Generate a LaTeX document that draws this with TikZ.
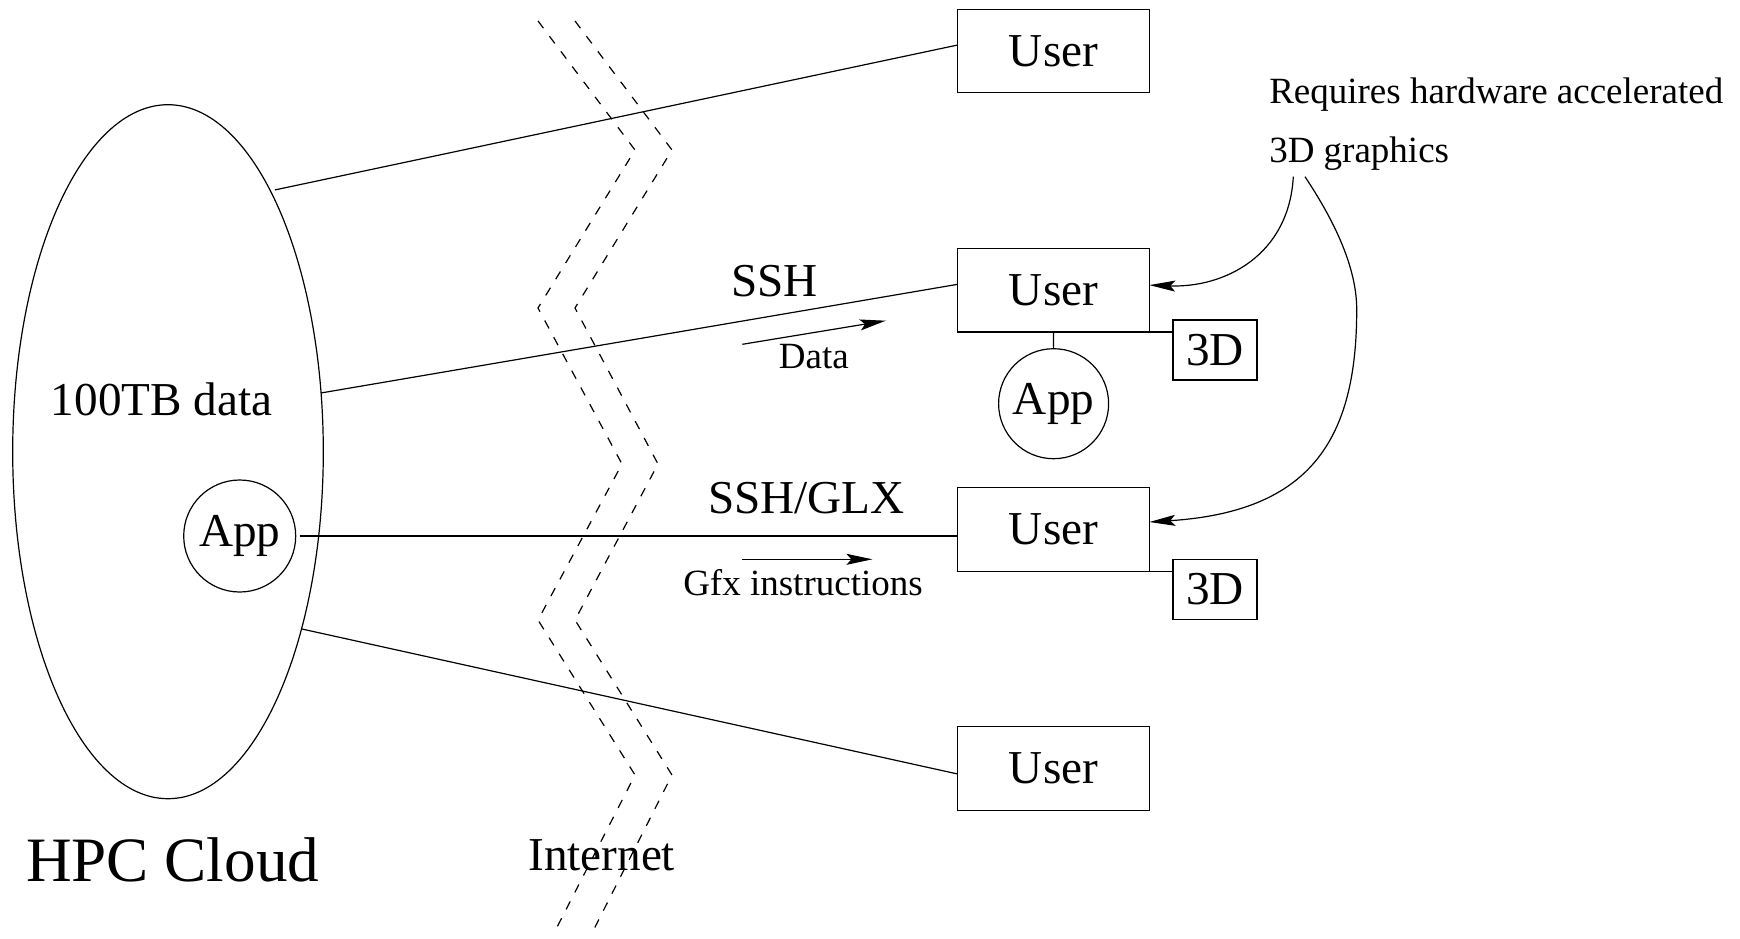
\documentclass[tikz,border=0pt]{standalone}
\usepackage{fontspec}
\setmainfont{Liberation Serif}
\usetikzlibrary{arrows.meta,shapes.geometric}

\begin{document}
\begin{tikzpicture}[x=0.5pt,y=-0.5pt,
  line width=0.6pt,
  big/.style={font=\fontsize{23.6}{28}\selectfont},
  small/.style={font=\fontsize{18.5}{22}\selectfont},
  userbox/.style={draw, rectangle, minimum width=95.8pt, minimum height=41.7pt,
    inner sep=0pt, outer sep=0pt, big},
  tdbox/.style={draw, rectangle, minimum width=42pt, minimum height=30pt,
    inner sep=0pt, outer sep=0pt, big},
  appcirc/.style={draw, circle, inner sep=0pt, outer sep=0pt, big},
  tip/.style={-{Stealth[length=13pt,width=5.5pt,inset=2.5pt]}},
  net/.style={dash pattern=on 4.5pt off 5pt},
]
\useasboundingbox (0,0) rectangle (1740,938);

% the cloud side
\node[draw, ellipse, minimum width=155.3pt, minimum height=347pt,
      inner sep=0pt, outer sep=0pt] (cloud) at (168,451.7) {};
\node[big, anchor=base] (data) at (161.7,415) {100TB data};
\node[appcirc, minimum size=56pt] (app) at (239.7,536) {App};
\node[font=\fontsize{31.6}{36}\selectfont, anchor=base] (hpc) at (172.7,881.7) {HPC Cloud};

% the internet boundary
\draw[net] (538,21) -- (635,150) -- (538,308) -- (622,464) -- (538,620) -- (635,775) -- (553,935);
\draw[net] (575,21) -- (672,150) -- (575,308) -- (658,464) -- (575,620) -- (672,775) -- (591,935);
\node[big, anchor=base] (inet) at (601.7,870) {Internet};

% users
\node[userbox] (u1) at (1053.5,51) {User};
\node[userbox] (u2) at (1053.5,290.3) {User};
\node[userbox] (u3) at (1053.5,529.4) {User};
\node[userbox] (u4) at (1053.5,768.4) {User};

\node[tdbox] (d1) at (1215,350) {3D};
\node[tdbox] (d2) at (1215,589.3) {3D};
\node[appcirc, minimum size=55pt] (app2) at (1053.6,403.7) {App};

\draw (u2.south east) -- (u2.south east -| d1.west);
\draw (u3.south east) -- (u3.south east -| d2.west);
\draw (u2.south) -- (app2.north);

% connections
\draw ([yshift=5pt]cloud.67.65) -- ([yshift=3pt]u1.west);
\draw (cloud.21.3) -- ([yshift=3pt]u2.west);
\draw ([xshift=2pt]app.east) -- (app.east -| u3.west);
\draw (cloud.-53.4) -- ([yshift=-2.8pt]u4.west);

% protocol labels
\node[big, anchor=base] (ssh) at (774.5,296.7) {SSH};
\node[small, anchor=base] (datal) at (813.9,368) {Data};
\coordinate (da) at (742.3,344.3);
\coordinate (db) at (885.8,320.7);
\draw[tip] (da) -- (db);

\node[big, anchor=base] (glx) at (806.4,513.3) {SSH/GLX};
\node[small, anchor=base] (gfx) at (803,595) {Gfx instructions};
\coordinate (ga) at (742.3,559.3);
\coordinate (gb) at (872.4,559.3);
\draw[tip] (ga) -- (gb);

% hardware note
\node[small, anchor=base west] (req1) at (1262,103) {Requires hardware accelerated};
\node[small, anchor=base west] (req2) at (1262,162) {3D graphics};
\coordinate (s1) at (1293.3,176.7);
\coordinate (s2) at (1305,176.7);
\draw[tip] (s1) .. controls (1289,255) and (1225,288) .. ([yshift=2.6pt]u2.east);
\draw[tip] (s2) .. controls (1325,207) and (1357,260) .. (1356.7,310)
  .. controls (1356.7,440) and (1310,511.7) .. ([yshift=3.7pt]u3.east);
\end{tikzpicture}
\end{document}
